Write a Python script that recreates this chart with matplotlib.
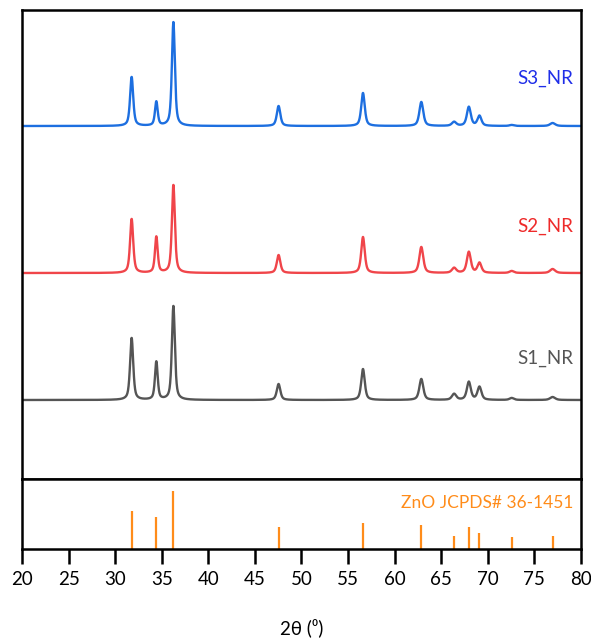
import matplotlib

matplotlib.use("Agg")
import matplotlib.pyplot as plt
import numpy as np

plt.rcParams['font.family'] = ['Lato', 'DejaVu Sans']

# --- data: ZnO reflections (JCPDS 36-1451) and read-off peak heights -------
peak_pos = [31.77, 34.42, 36.25, 47.54, 56.60, 62.86, 66.38, 67.96, 69.10, 72.56, 76.95]
ref_int = [38, 32, 58, 22, 26, 24, 13, 22, 16, 12, 13]

s1_heights = [62, 38, 94, 16, 31, 21, 6, 18, 13, 2, 3]
s2_heights = [54, 36, 88, 18, 36, 26, 5, 21, 10, 2, 4]
s3_heights = [49, 24, 104, 20, 33, 24, 4, 19, 10, 1, 3]
peak_fwhm = [0.4, 0.35, 0.38, 0.45, 0.45, 0.5, 0.55, 0.5, 0.5, 0.55, 0.65]

offsets = {"S1_NR": 79, "S2_NR": 206, "S3_NR": 353}
colors = {"S1_NR": "#555555", "S2_NR": "#f0454a", "S3_NR": "#1d6fe0"}
text_colors = {"S1_NR": "#555555", "S2_NR": "#ee2a2a", "S3_NR": "#1f2ee8"}
label_y = {"S1_NR": 121, "S2_NR": 253, "S3_NR": 401}
heights = {"S1_NR": s1_heights, "S2_NR": s2_heights, "S3_NR": s3_heights}

two_theta = np.linspace(20, 80, 3001)


def pattern(h):
    # pseudo-Voigt profile built from the peak table
    y = np.zeros_like(two_theta)
    for p, a, w in zip(peak_pos, h, peak_fwhm):
        g = (w / 2) ** 2
        lor = g / ((two_theta - p) ** 2 + g)
        gau = np.exp(-4 * np.log(2) * (two_theta - p) ** 2 / w ** 2)
        y += a * (0.6 * lor + 0.4 * gau)
    return y


fig = plt.figure(figsize=(5.91, 6.38), dpi=100)
ax = fig.add_axes([0.0372, 0.2492, 0.9459, 0.7351])
ax2 = fig.add_axes([0.0372, 0.1395, 0.9459, 0.1097])

for name in ["S1_NR", "S2_NR", "S3_NR"]:
    ax.plot(two_theta, pattern(heights[name]) + offsets[name],
            color=colors[name], lw=1.7)
    ax.text(79.2, label_y[name], name, color=text_colors[name],
            fontsize=13.5, ha="right", va="center")

ax.set_xlim(20, 80)
ax.set_ylim(0, 469)
ax.set_xticks([])
ax.set_yticks([])

ax2.vlines(peak_pos, 0, ref_int, color="#ff8c1a", lw=1.6)
ax2.text(79.2, 46, "ZnO JCPDS# 36-1451", color="#ff8c1a", fontsize=12.5,
         ha="right", va="center")
ax2.set_xlim(20, 80)
ax2.set_ylim(0, 70)
ax2.set_yticks([])
ax2.set_xticks(np.arange(20, 81, 5))
ax2.tick_params(axis="x", direction="out", length=11, width=1.8,
                labelsize=13.5, pad=5)
ax2.set_xlabel("2θ (⁰)", fontsize=13.5, labelpad=22)

for a in (ax, ax2):
    for s in a.spines.values():
        s.set_linewidth(1.8)

fig.savefig("out.png", dpi=100)
